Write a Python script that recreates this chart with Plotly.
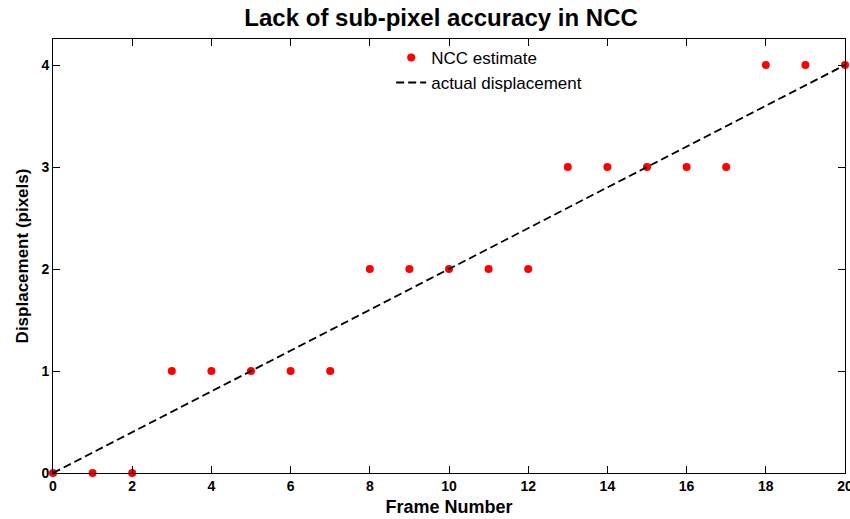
import plotly.graph_objects as go

frames = list(range(0, 21))
ncc_estimate = [0, 0, 0, 1, 1, 1, 1, 1, 2, 2, 2, 2, 2, 3, 3, 3, 3, 3, 4, 4, 4]
actual_x = [0, 20]
actual_y = [0, 4]
x_ticks = [0, 2, 4, 6, 8, 10, 12, 14, 16, 18, 20]
y_ticks = [0, 1, 2, 3, 4]

fig = go.Figure()
fig.add_trace(go.Scatter(x=frames, y=ncc_estimate, mode="markers", name="NCC estimate",
                         marker=dict(color="#ff0000", size=8), cliponaxis=False))
fig.add_trace(go.Scatter(x=actual_x, y=actual_y, mode="lines", name="actual displacement",
                         line=dict(color="black", width=1.8, dash="8px,4px")))

axis_common = dict(showgrid=False, zeroline=False, showline=True, linecolor="black", linewidth=1,
                   mirror="allticks", ticks="inside", ticklen=7, tickcolor="black",
                   ticklabeloverflow="allow", automargin=False,
                   tickfont=dict(family="Liberation Sans", size=14, color="black", weight="bold"))
fig.update_xaxes(range=[0, 20], tickvals=x_ticks, **axis_common,
                 title=dict(text="<b>Frame Number</b>", font=dict(family="Liberation Sans", size=18, color="black"), standoff=7))
fig.update_yaxes(range=[0, 4.255], tickvals=y_ticks, **axis_common,
                 title=dict(text="<b>Displacement (pixels)</b>", font=dict(family="Liberation Sans", size=17, color="black"), standoff=8))

fig.update_layout(
    width=850, height=519,
    margin=dict(l=53, r=5, t=39, b=46),
    paper_bgcolor="white", plot_bgcolor="white",
    title=dict(text="<b>Lack of sub-pixel accuracy in NCC</b>", x=0.49, xanchor="center", y=0.967, yanchor="middle",
               xref="paper", font=dict(family="Liberation Sans", size=24, color="black")),
    legend=dict(x=0.427, y=0.998, xanchor="left", yanchor="top", bgcolor="rgba(0,0,0,0)",
                borderwidth=0, font=dict(family="Liberation Sans", size=17, color="black"),
                itemwidth=30, tracegroupgap=0),
    showlegend=True,
)
fig.write_html("out.html")
